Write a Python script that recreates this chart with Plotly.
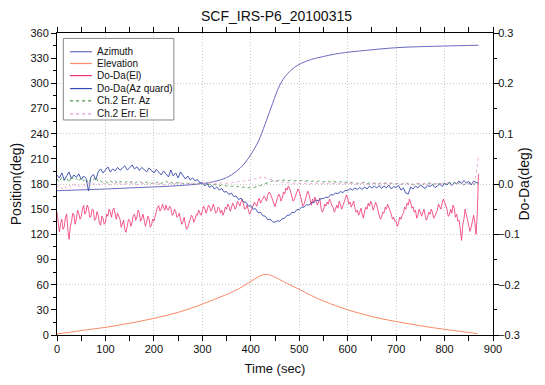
import plotly.graph_objects as go

# ---- smooth position curves (deg) ----
elev_time = [0, 25, 50, 75, 100, 125, 150, 175, 200, 225, 250, 275, 300, 325, 350, 375, 400, 415,
             423, 431, 439, 447, 460, 475, 500, 525, 550, 575, 600, 625, 650, 675, 700, 725, 750,
             775, 800, 825, 850, 868]
elevation = [1.2, 3.2, 5.3, 7.2, 9.1, 11.5, 14.0, 16.8, 19.8, 23.2, 27.0, 31.5, 36.8, 42.5, 48.3,
             55.0, 64.0, 69.0, 71.3, 72.3, 71.6, 69.8, 66.0, 61.5, 54.5, 47.0, 40.5, 35.0, 30.0,
             25.8, 22.0, 18.8, 16.0, 13.5, 11.0, 8.8, 6.8, 4.9, 3.0, 1.6]

az_time = [0, 50, 100, 150, 200, 250, 300, 325, 350, 370, 385, 400, 415, 430, 445, 460, 475, 490,
           505, 525, 550, 575, 600, 650, 700, 750, 800, 870]
azimuth = [172.0, 173.0, 174.0, 175.3, 176.5, 178.0, 180.5, 183.0, 187.5, 195.0, 203.0, 215.0,
           230.0, 252.0, 276.0, 298.0, 311.0, 319.0, 324.0, 328.5, 332.0, 335.0, 337.0, 340.0,
           342.5, 343.7, 344.5, 345.4]

# ---- Do-Da(El), sampled every 2.5 s (millidegrees) ----
time_el_s = [0, 2.5, 5, 7.5, 10, 12.5, 15, 17.5, 20, 22.5, 25, 27.5, 30, 32.5, 35, 37.5, 40, 42.5, 45, 47.5,
             50, 52.5, 55, 57.5, 60, 62.5, 65, 67.5, 70, 72.5, 75, 77.5, 80, 82.5, 85, 87.5, 90, 92.5, 95, 97.5,
             100, 102.5, 105, 107.5, 110, 112.5, 115, 117.5, 120, 122.5, 125, 127.5, 130, 132.5, 135, 137.5, 140, 142.5, 145, 147.5,
             150, 152.5, 155, 157.5, 160, 162.5, 165, 167.5, 170, 172.5, 175, 177.5, 180, 182.5, 185, 187.5, 190, 192.5, 195, 197.5,
             200, 202.5, 205, 207.5, 210, 212.5, 215, 217.5, 220, 222.5, 225, 227.5, 230, 232.5, 235, 237.5, 240, 242.5, 245, 247.5,
             250, 252.5, 255, 257.5, 260, 262.5, 265, 267.5, 270, 272.5, 275, 277.5, 280, 282.5, 285, 287.5, 290, 292.5, 295, 297.5,
             300, 302.5, 305, 307.5, 310, 312.5, 315, 317.5, 320, 322.5, 325, 327.5, 330, 332.5, 335, 337.5, 340, 342.5, 345, 347.5,
             350, 352.5, 355, 357.5, 360, 362.5, 365, 367.5, 370, 372.5, 375, 377.5, 380, 382.5, 385, 387.5, 390, 392.5, 395, 397.5,
             400, 402.5, 405, 407.5, 410, 412.5, 415, 417.5, 420, 422.5, 425, 427.5, 430, 432.5, 435, 437.5, 440, 442.5, 445, 447.5,
             450, 452.5, 455, 457.5, 460, 462.5, 465, 467.5, 470, 472.5, 475, 477.5, 480, 482.5, 485, 487.5, 490, 492.5, 495, 497.5,
             500, 502.5, 505, 507.5, 510, 512.5, 515, 517.5, 520, 522.5, 525, 527.5, 530, 532.5, 535, 537.5, 540, 542.5, 545, 547.5,
             550, 552.5, 555, 557.5, 560, 562.5, 565, 567.5, 570, 572.5, 575, 577.5, 580, 582.5, 585, 587.5, 590, 592.5, 595, 597.5,
             600, 602.5, 605, 607.5, 610, 612.5, 615, 617.5, 620, 622.5, 625, 627.5, 630, 632.5, 635, 637.5, 640, 642.5, 645, 647.5,
             650, 652.5, 655, 657.5, 660, 662.5, 665, 667.5, 670, 672.5, 675, 677.5, 680, 682.5, 685, 687.5, 690, 692.5, 695, 697.5,
             700, 702.5, 705, 707.5, 710, 712.5, 715, 717.5, 720, 722.5, 725, 727.5, 730, 732.5, 735, 737.5, 740, 742.5, 745, 747.5,
             750, 752.5, 755, 757.5, 760, 762.5, 765, 767.5, 770, 772.5, 775, 777.5, 780, 782.5, 785, 787.5, 790, 792.5, 795, 797.5,
             800, 802.5, 805, 807.5, 810, 812.5, 815, 817.5, 820, 822.5, 825, 827.5, 830, 832.5, 835, 837.5, 840, 842.5, 845, 847.5,
             850, 852.5, 855, 857.5, 860, 862.5, 865, 867.5, 870]

doda_el_mdeg = [-56, -72, -95, -78, -70, -90, -85, -66, -60, -92, -110, -84, -75, -58, -62, -80, -70, -52, -58, -70,
                -65, -50, -43, -60, -55, -42, -48, -66, -65, -50, -52, -72, -70, -55, -62, -78, -82, -64, -68, -80,
                -76, -60, -64, -50, -55, -66, -52, -48, -62, -70, -58, -64, -70, -86, -78, -72, -90, -96, -84, -70,
                -72, -84, -76, -62, -60, -72, -65, -52, -58, -74, -68, -60, -72, -84, -76, -64, -70, -86, -82, -70,
                -74, -62, -55, -46, -43, -54, -50, -40, -45, -52, -42, -50, -52, -44, -48, -62, -60, -50, -55, -66,
                -64, -58, -70, -80, -75, -66, -80, -90, -86, -76, -72, -62, -66, -76, -70, -60, -62, -52, -58, -62,
                -54, -44, -48, -58, -52, -42, -45, -54, -50, -40, -47, -58, -55, -46, -48, -58, -52, -62, -56, -46,
                -50, -40, -44, -54, -48, -38, -42, -50, -46, -34, -38, -44, -35, -30, -40, -50, -48, -42, -52, -60,
                -55, -48, -45, -36, -40, -44, -34, -28, -38, -32, -30, -24, -28, -34, -22, -16, -18, -26, -32, -40,
                -45, -36, -30, -20, -24, -34, -28, -16, -20, -8, -12, -4, -8, -18, -25, -34, -30, -22, -18, -10,
                -14, -26, -35, -44, -40, -30, -24, -14, -20, -32, -42, -30, -38, -26, -32, -42, -36, -28, -48, -56,
                -52, -40, -44, -36, -40, -30, -35, -44, -46, -56, -50, -42, -48, -34, -40, -50, -44, -36, -32, -22,
                -28, -40, -36, -46, -40, -34, -48, -56, -52, -62, -56, -48, -60, -68, -54, -46, -50, -38, -44, -34,
                -40, -52, -46, -36, -42, -54, -62, -70, -66, -56, -58, -46, -50, -40, -46, -56, -60, -70, -66, -74,
                -74, -84, -78, -66, -70, -62, -58, -46, -50, -38, -42, -30, -36, -48, -45, -56, -52, -68, -62, -50,
                -55, -64, -58, -50, -62, -72, -66, -56, -60, -50, -56, -68, -64, -58, -52, -40, -44, -50, -38, -30,
                -36, -44, -50, -64, -62, -50, -58, -42, -48, -66, -60, -74, -72, -90, -112, -82, -70, -50, -60, -72,
                -78, -94, -86, -70, -62, -76, -100, -60, 20]

# ---- other difference series, sampled every 5 s (millidegrees) ----
time_s = [0, 5, 10, 15, 20, 25, 30, 35, 40, 45,
          50, 55, 60, 65, 70, 75, 80, 85, 90, 95,
          100, 105, 110, 115, 120, 125, 130, 135, 140, 145,
          150, 155, 160, 165, 170, 175, 180, 185, 190, 195,
          200, 205, 210, 215, 220, 225, 230, 235, 240, 245,
          250, 255, 260, 265, 270, 275, 280, 285, 290, 295,
          300, 305, 310, 315, 320, 325, 330, 335, 340, 345,
          350, 355, 360, 365, 370, 375, 380, 385, 390, 395,
          400, 405, 410, 415, 420, 425, 430, 435, 440, 445,
          450, 455, 460, 465, 470, 475, 480, 485, 490, 495,
          500, 505, 510, 515, 520, 525, 530, 535, 540, 545,
          550, 555, 560, 565, 570, 575, 580, 585, 590, 595,
          600, 605, 610, 615, 620, 625, 630, 635, 640, 645,
          650, 655, 660, 665, 670, 675, 680, 685, 690, 695,
          700, 705, 710, 715, 720, 725, 730, 735, 740, 745,
          750, 755, 760, 765, 770, 775, 780, 785, 790, 795,
          800, 805, 810, 815, 820, 825, 830, 835, 840, 845,
          850, 855, 860, 865, 870]

doda_az_mdeg = [18, 12, 22, 8, 16, 24, 10, 18, 13, 20,
                9, 16, 11, -14, 14, 19, 8, 24, 30, 22,
                28, 34, 24, 30, 26, 33, 27, 31, 36, 28,
                32, 38, 30, 34, 27, 33, 29, 24, 32, 26,
                22, 29, 24, 18, 26, 20, 14, 28, 16, 22,
                12, 24, 18, 10, 16, 8, 12, 6, 9, 2,
                3, -4, 1, -7, -3, -10, -6, -12, -9, -16,
                -15, -21, -18, -25, -24, -31, -28, -36, -36, -44,
                -43, -50, -49, -57, -56, -63, -64, -71, -70, -75,
                -76, -73, -74, -69, -68, -62, -62, -56, -57, -51,
                -51, -46, -46, -41, -42, -37, -37, -32, -33, -29,
                -29, -26, -27, -21, -22, -18, -19, -15, -17, -13,
                -13, -9, -12, -8, -11, -7, -11, -6, -10, -4,
                -8, -4, -8, -3, -9, -4, -8, -2, -10, -5,
                -7, -3, -12, -8, -18, -20, -6, -10, -4, -8,
                -2, -6, -9, -3, -5, -1, -7, -4, 0, -5,
                2, -2, 4, -3, 3, 0, 6, 1, 7, 2,
                5, -2, 6, 3, 2]

ch2_err_az_mdeg = [10, 4, 14, 7, 12, 3, 16, 8, 11, 5,
                   13, 6, 10, 2, 12, 8, 14, 4, 6, 3,
                   5, 2, 6, 3, 7, 1, 5, 4, 2, 6,
                   3, 5, 1, 4, 6, 2, 4, 3, 5, 1,
                   4, 2, 5, 1, 3, 6, 2, 4, 1, 3,
                   2, 4, 0, 3, 1, 2, -1, 3, 0, 1,
                   -1, 1, -2, 0, -3, -1, -2, -4, -2, -3,
                   -4, -3, -5, -4, -6, -5, -7, -6, -8, -7,
                   -8, -7, -6, -4, -3, -1, 1, 3, 4, 6,
                   7, 6, 8, 7, 8, 6, 7, 8, 6, 7,
                   6, 7, 5, 6, 7, 5, 6, 4, 6, 5,
                   5, 4, 6, 3, 5, 4, 3, 5, 2, 4,
                   3, 4, 2, 3, 1, 3, 2, 4, 1, 2,
                   3, 1, 2, 0, 3, 1, 2, 0, 2, 1,
                   0, 2, -1, 1, 3, 0, 1, -2, 2, 0,
                   1, -1, 2, 0, 3, -1, 1, 2, 0, 3,
                   1, -2, 2, 0, 4, -1, 3, 1, -2, 2,
                   0, 3, -1, 2, 0]

ch2_err_el_mdeg = [-6, -2, -10, -4, -8, -3, -7, -1, -5, -3,
                   -6, -2, -4, 0, -3, 1, -2, 0, -1, 2,
                   -1, 1, -2, 0, 2, -1, 1, -2, 0, 1,
                   -1, 2, 0, -2, 1, 0, 2, -1, 1, 0,
                   2, -1, 0, 1, -2, 1, 0, 2, -1, 1,
                   0, 2, 1, -1, 1, 0, 2, 1, 0, 1,
                   2, 0, 1, 3, 1, 0, 2, 1, 3, 2,
                   1, 3, 2, 4, 3, 5, 6, 5, 8, 7,
                   9, 8, 11, 10, 13, 16, 12, 11, 9, 8,
                   6, 5, 4, 3, 4, 2, 3, 1, 2, 1,
                   2, 0, 1, 2, -1, 1, 0, 2, 1, 0,
                   1, -1, 2, 0, 1, 2, 0, 1, -1, 1,
                   0, 2, 1, -1, 1, 0, 2, 1, 0, -1,
                   1, 2, 0, 1, -1, 2, 1, 0, 1, 2,
                   0, 1, -1, 2, 1, 0, 2, -1, 1, 0,
                   2, 1, 0, -1, 1, 2, 0, 1, -1, 1,
                   0, 2, 1, -2, 1, 0, 3, 1, -1, 2,
                   0, 4, 2, 18, 54]

series_names = ["Azimuth", "Elevation", "Do-Da(El)", "Do-Da(Az quard)", "Ch.2 Err. Az",
                "Ch.2 Err. El"]
series_colors = ["#6a6abf", "#fa8a68", "#f0306e", "#3448b0", "#4e9a4e", "#ec9ad6"]
series_dash = ["solid", "solid", "solid", "solid", "dot", "dot"]


def deg(vals):
    return [v / 1000.0 for v in vals]


FONT = "Liberation Sans, Arial, sans-serif"

fig = go.Figure()
fig.add_trace(go.Scatter(x=az_time, y=azimuth, name=series_names[0], mode="lines",
                         line=dict(color=series_colors[0], width=1, shape="spline"), yaxis="y"))
fig.add_trace(go.Scatter(x=elev_time, y=elevation, name=series_names[1], mode="lines",
                         line=dict(color=series_colors[1], width=1, shape="spline"), yaxis="y"))
fig.add_trace(go.Scatter(x=time_el_s, y=deg(doda_el_mdeg), name=series_names[2], mode="lines",
                         line=dict(color=series_colors[2], width=0.8), yaxis="y2"))
fig.add_trace(go.Scatter(x=time_s, y=deg(doda_az_mdeg), name=series_names[3], mode="lines",
                         line=dict(color=series_colors[3], width=0.9), yaxis="y2"))
fig.add_trace(go.Scatter(x=time_s, y=deg(ch2_err_az_mdeg), name=series_names[4], mode="lines",
                         line=dict(color=series_colors[4], width=0.9, dash="dot"), yaxis="y2"))
fig.add_trace(go.Scatter(x=time_s, y=deg(ch2_err_el_mdeg), name=series_names[5], mode="lines",
                         line=dict(color=series_colors[5], width=0.9, dash="dot"), yaxis="y2"))

# compact legend box (layout decoration, top-left inside the plot)
shapes = [dict(type="rect", xref="paper", yref="paper", x0=0.0145, x1=0.268, y0=0.712, y1=0.982,
               line=dict(color="#888", width=1), fillcolor="white", layer="above")]
annotations = []
row_y = [0.938, 0.899, 0.859, 0.816, 0.775, 0.732]
for name, color, dash, ry in zip(series_names, series_colors, series_dash, row_y):
    shapes.append(dict(type="line", xref="paper", yref="paper", x0=0.030, x1=0.080, y0=ry, y1=ry,
                       line=dict(color=color, width=1.2, dash=dash), layer="above"))
    annotations.append(dict(xref="paper", yref="paper", x=0.088, y=ry, text=name,
                            showarrow=False, xanchor="left", yanchor="middle",
                            font=dict(family=FONT, size=10, color="#111")))

grid_dash = "1px,2px"
fig.update_layout(
    width=537, height=377,
    margin=dict(l=49, r=52, t=25, b=50, autoexpand=False),
    paper_bgcolor="white", plot_bgcolor="white",
    font=dict(family=FONT, size=11, color="#111"),
    title=dict(text="SCF_IRS-P6_20100315", x=0.5, xanchor="center", y=0.979, yanchor="middle",
               yref="container", font=dict(family=FONT, size=14, color="#111")),
    showlegend=False,
    shapes=shapes,
    annotations=annotations,
    xaxis=dict(range=[0, 900], dtick=100, tick0=0, showline=True, linecolor="black",
               linewidth=1, mirror="allticks", ticks="outside", ticklen=5, tickcolor="black",
               showgrid=True, gridcolor="#c8c8c8", griddash=grid_dash, gridwidth=1,
               zeroline=False, automargin=True, ticklabelstandoff=-1,
               minor=dict(ticks="outside", ticklen=3, dtick=50, tickcolor="black", showgrid=False),
               title=dict(text="Time (sec)", font=dict(family=FONT, size=13), standoff=9)),
    yaxis=dict(range=[0, 360], dtick=30, tick0=0, showline=True, linecolor="black", linewidth=1,
               ticks="outside", ticklen=5, tickcolor="black", showgrid=False, zeroline=False,
               automargin=True,
               minor=dict(ticks="outside", ticklen=3, dtick=15, tickcolor="black", showgrid=False),
               title=dict(text="Position(deg)", font=dict(family=FONT, size=14), standoff=8)),
    yaxis2=dict(range=[-0.3, 0.3], dtick=0.1, tick0=0, tickformat=".1f", overlaying="y",
                side="right", showline=True, linecolor="black", linewidth=1, ticks="outside",
                ticklen=5, tickcolor="black", showgrid=True, gridcolor="#c8c8c8",
                griddash=grid_dash, gridwidth=1, zeroline=False, automargin=True,
                ticklabelstandoff=-3,
                minor=dict(ticks="outside", ticklen=3, dtick=0.05, tickcolor="black",
                           showgrid=False),
                title=dict(text="Do-Da(deg)", font=dict(family=FONT, size=14), standoff=0)),
)

fig.write_html("out.html")
